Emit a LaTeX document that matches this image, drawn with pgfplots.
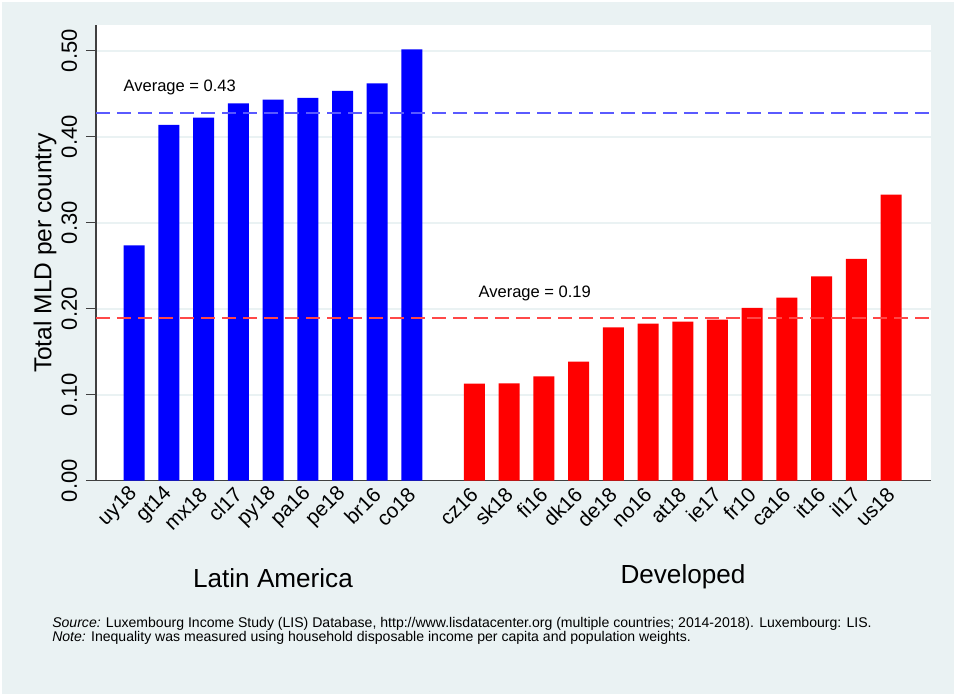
\documentclass[border=0pt]{standalone}
\usepackage{fontspec}
\setmainfont{Liberation Sans}
\usepackage{pgfplots}
\pgfplotsset{compat=1.18}
\definecolor{bg}{HTML}{EAF2F3}
\definecolor{gridc}{HTML}{EAF2F3}
\definecolor{axc}{HTML}{404040}
\definecolor{barblue}{HTML}{0000FF}
\definecolor{barred}{HTML}{FF0000}
\definecolor{avgblue}{HTML}{5A5AFF}
\definecolor{avgred}{HTML}{FF4848}
\begin{document}
\begin{tikzpicture}[x=0.75pt,y=0.75pt]
\fill[white] (0,0) rectangle (954,694);
\fill[bg] (2,0) rectangle (954,692);
\useasboundingbox (0,0) rectangle (954,694);
\begin{axis}[
  at={(72pt,159.98pt)}, anchor=south west, scale only axis,
  width=625.875pt, height=341.55pt,
  xmin=-1.1, xmax=22.935, ymin=0, ymax=0.5295,
  axis background/.style={fill=white},
  axis x line*=bottom, axis y line*=left,
  axis line style={draw=axc, line width=1.1pt, -},
  ymajorgrids, grid style={draw=gridc, line width=1.3pt},
  ytick={0,0.1,0.2,0.3,0.4,0.5},
  y tick label style={/pgf/number format/fixed, /pgf/number format/fixed zerofill, /pgf/number format/precision=2, /pgf/number format/assume math mode=true},
  yticklabel style={font=\fontsize{16.5}{16.5}\selectfont, rotate=90, anchor=south, inner sep=0pt, yshift=6.5pt},
  tick align=outside, major tick length=7.5pt,
  ytick style={draw=axc, line width=1.1pt},
  xtick style={draw=none},
  xtick={0,1,2,3,4,5,6,7,8,9.8,10.8,11.8,12.8,13.8,14.8,15.8,16.8,17.8,18.8,19.8,20.8,21.8},
  xticklabels={uy18,gt14,mx18,cl17,py18,pa16,pe18,br16,co18,cz16,sk18,fi16,dk16,de18,no16,at18,ie17,fr10,ca16,it16,il17,us18},
  xticklabel style={font=\fontsize{15.5}{15.5}\selectfont, rotate=45, anchor=east, inner sep=0pt},
  clip=false,
]
\addplot[ybar, bar width=15.75pt, bar shift=0pt, fill=barblue, draw=none] coordinates {
 (0,0.2736) (1,0.4136) (2,0.4221) (3,0.4388) (4,0.4430) (5,0.4450) (6,0.4531) (7,0.4620) (8,0.5015)};
\addplot[ybar, bar width=15.75pt, bar shift=0pt, fill=barred, draw=none] coordinates {
 (9.8,0.1128) (10.8,0.1132) (11.8,0.1214) (12.8,0.1384) (13.8,0.1783) (14.8,0.1826) (15.8,0.1849) (16.8,0.1872) (17.8,0.2008) (18.8,0.2128) (19.8,0.2376) (20.8,0.2578) (21.8,0.3326)};
\addplot[avgblue, line width=1.4pt, dash pattern=on 10.5pt off 5.25pt] coordinates {(-1.1,0.4276) (22.935,0.4276)};
\addplot[avgred, line width=1.4pt, dash pattern=on 10.5pt off 5.25pt] coordinates {(-1.1,0.1892) (22.935,0.1892)};
\end{axis}
\node[anchor=west, inner sep=0pt, font=\fontsize{12.4}{12.4}\selectfont] at (123.3,606.3) {Average = 0.43};
\node[anchor=west, inner sep=0pt, font=\fontsize{12.4}{12.4}\selectfont] at (478.3,400.7) {Average = 0.19};
\node[rotate=90, inner sep=0pt, font=\fontsize{18.4}{18.4}\selectfont] at (45,441) {Total MLD per country};
\node[inner sep=0pt, font=\fontsize{19.6}{19.6}\selectfont] at (273,116) {Latin America};
\node[inner sep=0pt, font=\fontsize{19.6}{19.6}\selectfont] at (683,117) {Developed};
\node[anchor=north west, inner sep=0pt, align=left, font=\fontsize{10.55}{10.55}\selectfont] at (52,77) {\textit{Source:} Luxembourg Income Study (LIS) Database, http://www.lisdatacenter.org (multiple countries; 2014-2018). Luxembourg: LIS.\\\textit{Note:} Inequality was measured using household disposable income per capita and population weights.};
\end{tikzpicture}
\end{document}
